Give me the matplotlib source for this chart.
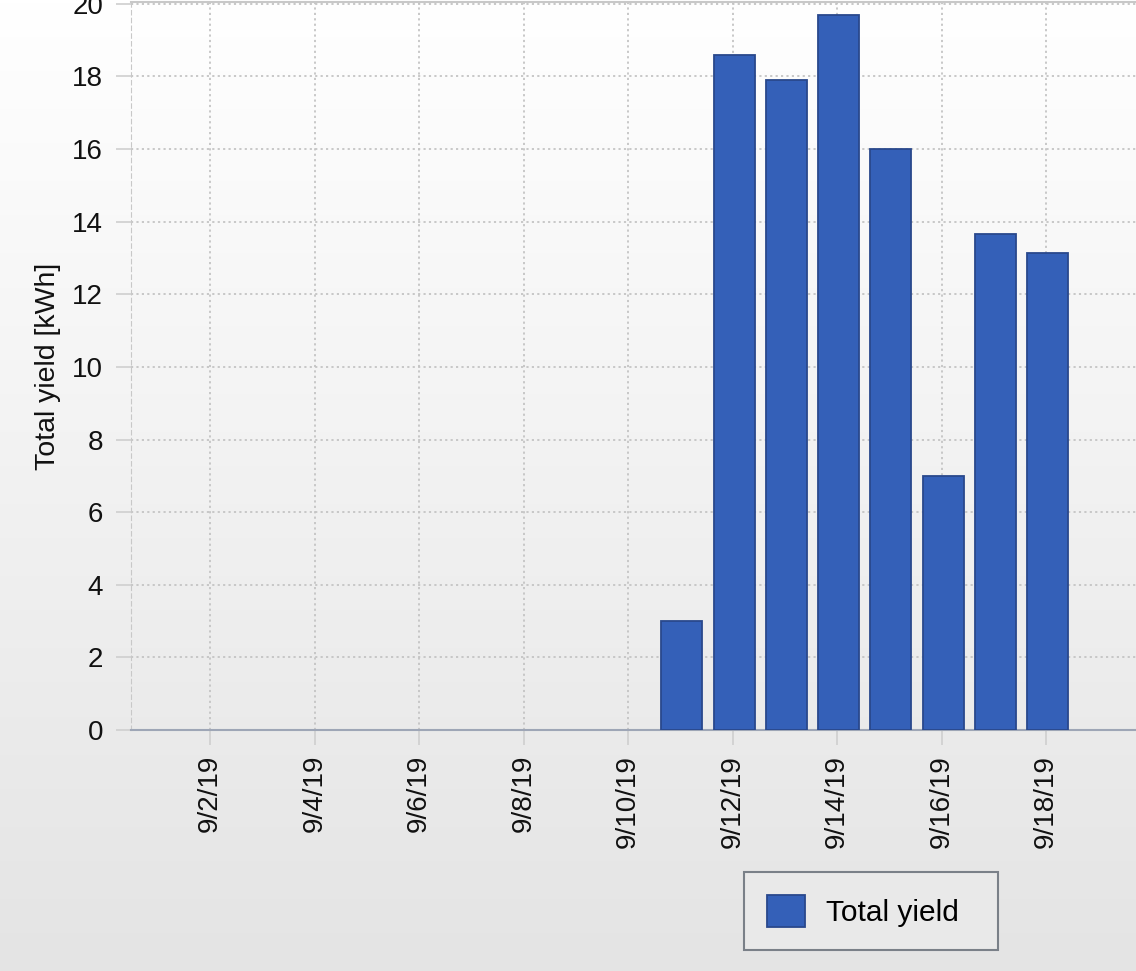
import datetime as dt
import numpy as np
import matplotlib
matplotlib.use("Agg")
import matplotlib.pyplot as plt
import matplotlib.dates as mdates
from matplotlib.ticker import FuncFormatter, MultipleLocator
from matplotlib.colors import LinearSegmentedColormap

# ---- data ----
dates = ["2019-09-11", "2019-09-12", "2019-09-13", "2019-09-14",
         "2019-09-15", "2019-09-16", "2019-09-17", "2019-09-18"]
yield_kwh = [3.0, 18.6, 17.9, 19.7, 16.0, 7.0, 13.65, 13.15]
series_label = "Total yield"
y_label = "Total yield [kWh]"

W, H = 1136, 971
plt.rcParams["font.family"] = ["Liberation Sans", "DejaVu Sans"]
fig = plt.figure(figsize=(W / 100, H / 100), dpi=100)

# background gradient
bg = fig.add_axes([0, 0, 1, 1], zorder=-10)
grad = np.linspace(0, 1, 256).reshape(-1, 1)
cmap = LinearSegmentedColormap.from_list("bg", ["#ffffff", "#e4e4e4"])
bg.imshow(grad, aspect="auto", cmap=cmap, extent=[0, 1, 0, 1], origin="upper")
bg.set_axis_off()

# axes: left=131px, top=2px, bottom=730px; extends past right edge
x0_date = mdates.date2num(dt.datetime(2019, 9, 1)) - 0.512
x1_date = mdates.date2num(dt.datetime(2019, 9, 30)) + 0.5
px_per_day = 52.25
left_px, top_px, bottom_px = 131, 2, 730
width_px = (x1_date - x0_date) * px_per_day
ax = fig.add_axes([left_px / W, 1 - bottom_px / H, width_px / W, (bottom_px - top_px) / H])
ax.set_facecolor("none")

xd = [mdates.date2num(dt.datetime.strptime(d, "%Y-%m-%d")) + 0.03 for d in dates]
ax.bar(xd, yield_kwh, width=0.785, color="#3460b8", edgecolor="#29488c",
       linewidth=1.3, label=series_label, zorder=3)

ax.set_xlim(x0_date, x1_date)
ax.set_ylim(0, 20.05)
ax.yaxis.set_major_locator(MultipleLocator(2))
ax.xaxis.set_major_locator(mdates.DayLocator(bymonthday=range(2, 31, 2)))
ax.xaxis.set_major_formatter(FuncFormatter(
    lambda v, p: (lambda d: f"{d.month}/{d.day}/{d.year % 100}")(mdates.num2date(v))))

ax.grid(True, color="#c4c4c4", linestyle=(0, (1.2, 1.8)), linewidth=1.3, zorder=0)
ax.tick_params(axis="both", length=11, width=1.2, color="#cfcfcf",
               labelsize=20, labelcolor="#111111", pad=9)
ax.tick_params(axis="x", labelrotation=90, pad=7)
ax.spines["right"].set_visible(False)
ax.spines["bottom"].set_color("#9ea6b6")
ax.spines["bottom"].set_linewidth(1.5)
ax.spines["top"].set_color("#c8c8c8")
ax.spines["top"].set_linewidth(1.5)
ax.spines["left"].set_color("#c8c8c8")
ax.spines["left"].set_linestyle((0, (4, 3)))
ax.set_ylabel(y_label, fontsize=20.5, color="#111111", labelpad=8)

leg = fig.legend(loc="upper left",
                 bbox_to_anchor=(744 / W, 1 - 950 / H, 254 / W, 78 / H),
                 mode="expand", frameon=True,
                 fancybox=False, edgecolor="#7a8088", facecolor="#e9e9e9",
                 fontsize=21.5, handlelength=1.27, handleheight=1.25,
                 borderpad=0.77, borderaxespad=0, handletextpad=0.72, framealpha=1)
leg.get_frame().set_linewidth(1.5)

fig.savefig("out.png", dpi=100)
